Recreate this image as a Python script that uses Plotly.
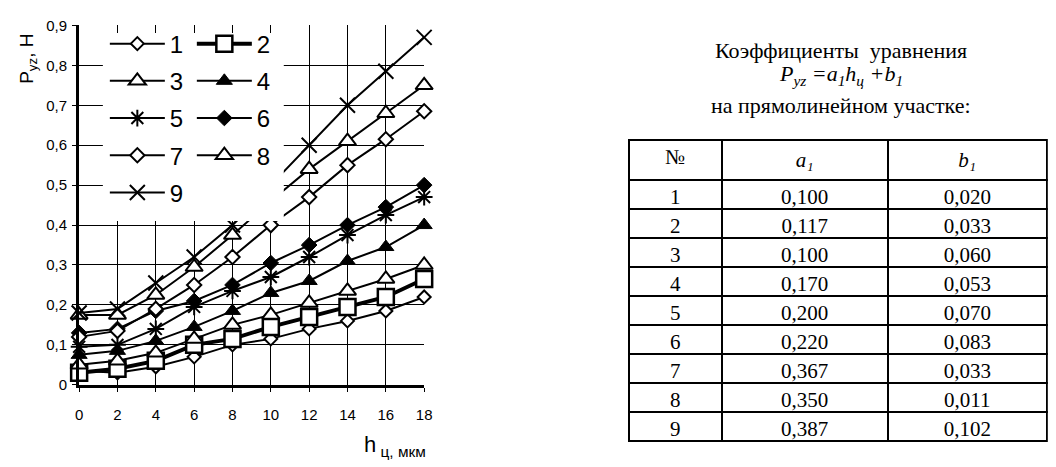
import plotly.graph_objects as go

W, H = 1056, 467

h = [0, 2, 4, 6, 8, 10, 12, 14, 16, 18]
s1 = [0.035, 0.030, 0.045, 0.070, 0.100, 0.115, 0.140, 0.160, 0.185, 0.220]
s2 = [0.030, 0.040, 0.060, 0.100, 0.115, 0.145, 0.170, 0.195, 0.220, 0.265]
s3 = [0.050, 0.060, 0.080, 0.115, 0.150, 0.175, 0.205, 0.235, 0.265, 0.300]
s4 = [0.075, 0.085, 0.110, 0.145, 0.185, 0.230, 0.260, 0.310, 0.345, 0.400]
s5 = [0.095, 0.100, 0.140, 0.195, 0.235, 0.270, 0.320, 0.375, 0.425, 0.470]
s6 = [0.130, 0.140, 0.185, 0.210, 0.250, 0.305, 0.350, 0.400, 0.445, 0.500]
s7 = [0.120, 0.135, 0.190, 0.250, 0.320, 0.400, 0.470, 0.550, 0.615, 0.685]
s8 = [0.175, 0.175, 0.225, 0.295, 0.375, 0.460, 0.540, 0.610, 0.680, 0.750]
s9 = [0.180, 0.190, 0.255, 0.320, 0.400, 0.500, 0.600, 0.700, 0.785, 0.870]
names = ["1", "2", "3", "4", "5", "6", "7", "8", "9"]

tbl_header = ["№", "<i>a₁</i>", "<i>b₁</i>"]
tbl_no = [1, 2, 3, 4, 5, 6, 7, 8, 9]
tbl_a1 = [0.100, 0.117, 0.100, 0.170, 0.200, 0.220, 0.367, 0.350, 0.387]
tbl_b1 = [0.020, 0.033, 0.060, 0.053, 0.070, 0.083, 0.033, 0.011, 0.102]


def comma(v):
    return f"{v:.3f}".replace(".", ",")


series = [s1, s2, s3, s4, s5, s6, s7, s8, s9]
styles = [
    dict(symbol="diamond", size=10, color="white", lw=2, tw=2),
    dict(symbol="square", size=16, color="white", lw=2.5, tw=4),
    dict(symbol="triangle-up", size=15, color="white", lw=2, tw=2),
    dict(symbol="triangle-up", size=14, color="black", lw=1, tw=2),
    dict(symbol="asterisk-open", size=14, color="black", lw=2, tw=2),
    dict(symbol="diamond", size=12, color="black", lw=1, tw=2),
    dict(symbol="diamond", size=11, color="white", lw=2, tw=2),
    dict(symbol="triangle-up", size=15, color="white", lw=2, tw=2),
    dict(symbol="x-thin-open", size=15, color="black", lw=2, tw=2),
]
legend_of = ["legend", "legend2", "legend", "legend2", "legend", "legend2", "legend", "legend2", "legend"]

SERIF = "Times New Roman, Liberation Serif, serif"
SANS = "Arial, Liberation Sans, sans-serif"

fig = go.Figure()
for name, ys, st, lg in zip(names, series, styles, legend_of):
    fig.add_trace(go.Scatter(
        x=h, y=ys, name=name, mode="lines+markers", legend=lg, legendgroup=name,
        line=dict(color="black", width=st["tw"]),
        marker=dict(symbol=st["symbol"], size=st["size"], color=st["color"],
                    line=dict(color="black", width=st["lw"])),
        cliponaxis=False,
    ))

fig.add_trace(go.Table(
    domain=dict(x=[632 / W, 1055 / W], y=[1 - 464 / H, 1 - 136 / H]),
    columnwidth=[94, 168, 161],
    header=dict(values=tbl_header,
                height=32, align="center", fill_color="white",
                line=dict(color="black", width=2),
                font=dict(family=SERIF, size=21, color="black")),
    cells=dict(values=[tbl_no, [comma(v) for v in tbl_a1], [comma(v) for v in tbl_b1]],
               height=29, align="center", fill_color="white",
               line=dict(color="black", width=2),
               font=dict(family=SERIF, size=21, color="black")),
))

axis_common = dict(showline=True, linecolor="black", linewidth=3, mirror=False,
                   showgrid=True, gridcolor="black", gridwidth=1, zeroline=False,
                   ticks="outside", ticklen=4, tickcolor="black",
                   tickfont=dict(family=SANS, size=15, color="black"))

leg_font = dict(family=SANS, size=24, color="black")

fig.update_layout(
    width=W, height=H, margin=dict(l=0, r=0, t=0, b=0),
    paper_bgcolor="white", plot_bgcolor="white",
    separators=", ",
    font=dict(family=SANS, color="black"),
    xaxis=dict(domain=[76 / W, 425 / W], range=[0, 18], tick0=0, dtick=2,
               ticklabelstandoff=10, **axis_common),
    yaxis=dict(domain=[77 / H, 450 / H], range=[0, 0.9], tick0=0, dtick=0.1,
               tickformat=".1~f", ticklabelstandoff=2, **axis_common),
    legend=dict(x=102 / W, y=1 - 13 / H, xanchor="left", yanchor="top",
                bgcolor="rgba(0,0,0,0)", borderwidth=0, itemwidth=55,
                tracegroupgap=3, font=leg_font),
    legend2=dict(x=190 / W, y=1 - 13 / H, xanchor="left", yanchor="top",
                 bgcolor="rgba(0,0,0,0)", borderwidth=0, itemwidth=55,
                 tracegroupgap=3, font=leg_font),
    shapes=[dict(type="rect", xref="paper", yref="paper", layer="above",
                 x0=100 / W, x1=283 / W, y0=1 - 220 / H, y1=1 - 25 / H,
                 fillcolor="white", line=dict(width=0))],
    annotations=[
        dict(text="P<sub>yz</sub>, H", textangle=-90, xref="paper", yref="paper",
             x=24 / W, y=1 - 52 / H, xanchor="center", yanchor="middle", showarrow=False,
             font=dict(family=SANS, size=19, color="black")),
        dict(text="h<sub> ц, мкм</sub>", xref="paper", yref="paper",
             x=395 / W, y=1 - 453 / H, xanchor="center", yanchor="middle", showarrow=False,
             font=dict(family=SANS, size=22, color="black")),
        dict(text="Коэффициенты  уравнения", xref="paper", yref="paper",
             x=847 / W, y=1 - 43 / H, xanchor="center", yanchor="middle", showarrow=False,
             font=dict(family=SERIF, size=22, color="black")),
        dict(text="<i>P<sub>yz</sub> =a<sub>1</sub>h<sub>ц</sub> +b<sub>1</sub></i>",
             xref="paper", yref="paper", x=847 / W, y=1 - 68 / H,
             xanchor="center", yanchor="middle", showarrow=False,
             font=dict(family=SERIF, size=22, color="black")),
        dict(text="на прямолинейном участке:", xref="paper", yref="paper",
             x=847 / W, y=1 - 100 / H, xanchor="center", yanchor="middle", showarrow=False,
             font=dict(family=SERIF, size=22, color="black")),
    ],
)

fig.write_html("out.html")
